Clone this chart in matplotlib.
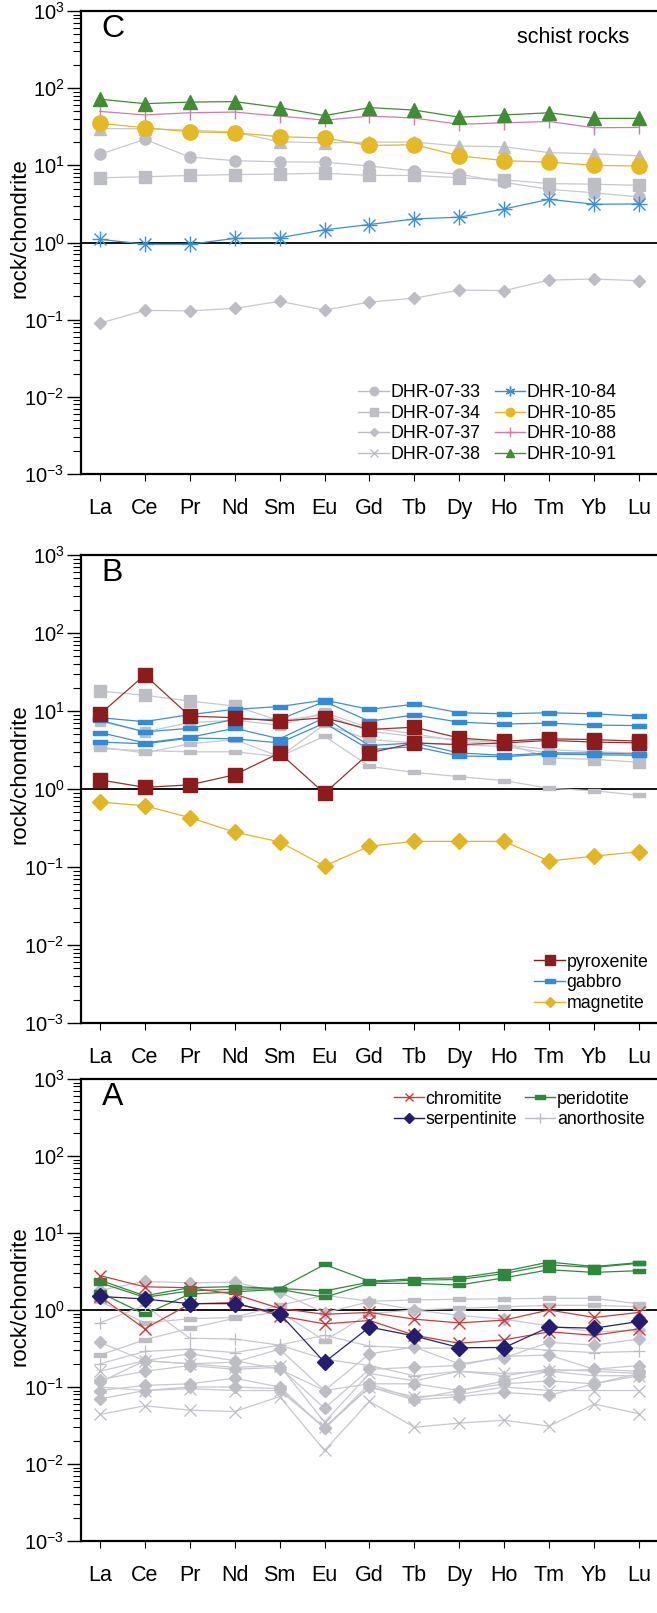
import matplotlib
matplotlib.use('Agg')
import matplotlib.pyplot as plt
from matplotlib.lines import Line2D
from matplotlib.ticker import FixedLocator, NullFormatter

plt.rcParams['font.family'] = ['Liberation Sans', 'DejaVu Sans']
plt.rcParams['mathtext.fontset'] = 'custom'
plt.rcParams['mathtext.rm'] = 'Liberation Sans'
plt.rcParams['mathtext.it'] = 'Liberation Sans:italic'
plt.rcParams['mathtext.bf'] = 'Liberation Sans:bold'
plt.rcParams['axes.unicode_minus'] = False

ree = ['La', 'Ce', 'Pr', 'Nd', 'Sm', 'Eu', 'Gd', 'Tb', 'Dy', 'Ho', 'Tm', 'Yb', 'Lu']
decades = [-3, -2, -1, 0, 1, 2, 3]

# --- panel C: schist rocks ---
dhr_07_33 = [13.9, 21.7, 12.8, 11.5, 11.1, 11.0, 9.8, 8.5, 7.7, 6.0, 4.9, 4.4, 3.9]
dhr_07_34 = [6.9, 7.1, 7.4, 7.6, 7.7, 7.9, 7.4, 7.4, 6.9, 6.5, 5.8, 5.7, 5.5]
dhr_07_37 = [0.090, 0.132, 0.130, 0.140, 0.173, 0.133, 0.169, 0.19, 0.242, 0.238, 0.326, 0.336, 0.32]
dhr_07_38 = [30, 29.8, 28.6, 27, 20.2, 19.6, 20, 20, 17.8, 17.4, 14.6, 14.1, 13.3]
dhr_10_84 = [1.10, 0.95, 0.95, 1.13, 1.15, 1.46, 1.71, 2.02, 2.13, 2.72, 3.63, 3.13, 3.16]
dhr_10_85 = [35, 30.7, 27.2, 26.4, 23.5, 22.6, 18.1, 18.5, 13.3, 11.5, 11.0, 10.0, 9.8]
dhr_10_88 = [50, 45, 48, 49, 43.5, 38.5, 43.5, 41, 34, 35.6, 37, 30.7, 31]
dhr_10_91 = [72, 63, 66, 67, 56, 44, 56, 52, 42, 45, 48, 40.6, 40.6]

# --- panel B ---
pyroxenite = [
    [9.1, 29, 8.6, 8.2, 7.4, 8.2, 5.8, 6.2, 4.5, 4.1, 4.4, 4.3, 4.1],
    [1.31, 1.05, 1.13, 1.52, 2.9, 0.88, 2.9, 3.9, 3.7, 3.9, 4.2, 4.0, 3.9],
]
gabbro = [
    [8.2, 7.3, 9.0, 10.5, 11.4, 13.8, 10.5, 12.2, 9.5, 9.2, 9.5, 9.2, 8.6],
    [7.6, 5.4, 6.0, 7.8, 7.8, 13.2, 7.4, 8.9, 7.2, 6.8, 7.0, 6.6, 6.5],
    [5.3, 3.9, 4.6, 6.0, 4.4, 8.2, 3.6, 3.9, 2.9, 2.7, 2.9, 2.9, 2.8],
    [4.0, 3.8, 4.5, 4.4, 3.9, 7.0, 3.2, 3.5, 2.65, 2.6, 2.8, 2.75, 2.7],
]
other_b = [
    [18, 15.9, 13.4, 11.6, 7.5, 9.0, 5.5, 4.7, 4.3, 3.9, 2.5, 2.4, 2.2],
    [7.4, 5.4, 7.1, 7.6, 6.6, 9.5, 6.1, 5.1, 4.1, 3.7, 3.2, 3.0, 2.9],
    [3.45, 2.9, 3.8, 4.3, 2.6, 6.7, 4.3, 3.9, 3.7, 3.5, 2.9, 2.8, 2.9],
    [3.3, 3.1, 3.0, 3.0, 2.6, 4.75, 1.95, 1.63, 1.44, 1.28, 1.02, 0.95, 0.83],
]
magnetite = [0.68, 0.61, 0.43, 0.28, 0.21, 0.103, 0.185, 0.213, 0.213, 0.213, 0.119, 0.138, 0.157]

# --- panel A ---
chromitite = [
    [2.8, 2.0, 1.95, 1.6, 1.05, 0.88, 0.93, 0.76, 0.68, 0.74, 1.0, 0.80, 0.93],
    [1.5, 0.57, 1.2, 1.25, 0.84, 0.66, 0.73, 0.47, 0.37, 0.41, 0.52, 0.47, 0.57],
]
serpentinite = [1.5, 1.39, 1.21, 1.21, 0.9, 0.21, 0.6, 0.46, 0.325, 0.325, 0.6, 0.58, 0.71]
peridotite = [
    [2.44, 1.53, 1.95, 2.01, 1.9, 3.9, 2.37, 2.54, 2.62, 3.18, 4.2, 3.67, 4.13],
    [2.26, 1.46, 1.77, 1.86, 1.9, 1.77, 2.3, 2.44, 2.49, 2.97, 3.86, 3.57, 4.05],
    [1.69, 0.88, 1.61, 1.72, 1.86, 1.46, 2.22, 2.22, 2.11, 2.62, 3.33, 3.08, 3.24],
]
anorthosite = [
    ['D', [1.8, 2.35, 2.25, 2.3, 1.7, 0.92, 1.28, 1.0, 0.85, 0.76, 0.62, 0.52, 0.55]],
    ['_', [1.3, 0.68, 0.77, 0.8, 1.15, 1.55, 1.3, 1.35, 1.38, 1.4, 1.42, 1.42, 1.2]],
    ['_', [0.26, 0.41, 0.58, 0.78, 0.95, 0.40, 0.9, 1.0, 1.05, 1.1, 1.15, 1.15, 1.1]],
    ['+', [0.68, 1.15, 0.43, 0.42, 0.35, 0.47, 0.34, 0.32, 0.32, 0.33, 0.3, 0.28, 0.29]],
    ['D', [0.38, 0.22, 0.2, 0.21, 0.31, 0.09, 0.27, 0.33, 0.2, 0.24, 0.38, 0.35, 0.42]],
    ['+', [0.2, 0.29, 0.31, 0.28, 0.35, 0.23, 0.19, 0.14, 0.16, 0.14, 0.17, 0.16, 0.15]],
    ['x', [0.16, 0.22, 0.2, 0.18, 0.19, 0.035, 0.15, 0.12, 0.16, 0.15, 0.16, 0.14, 0.14]],
    ['D', [0.125, 0.16, 0.19, 0.17, 0.18, 0.053, 0.17, 0.18, 0.19, 0.25, 0.26, 0.17, 0.19]],
    ['D', [0.115, 0.22, 0.27, 0.22, 0.17, 0.09, 0.11, 0.11, 0.09, 0.12, 0.16, 0.17, 0.16]],
    ['D', [0.09, 0.105, 0.11, 0.13, 0.1, 0.029, 0.11, 0.07, 0.09, 0.11, 0.12, 0.11, 0.15]],
    ['x', [0.1, 0.09, 0.095, 0.09, 0.09, 0.03, 0.1, 0.075, 0.08, 0.1, 0.09, 0.09, 0.09]],
    ['D', [0.07, 0.09, 0.1, 0.1, 0.095, 0.029, 0.1, 0.068, 0.075, 0.085, 0.078, 0.11, 0.14]],
    ['x', [0.044, 0.057, 0.05, 0.048, 0.075, 0.015, 0.065, 0.03, 0.034, 0.037, 0.031, 0.06, 0.045]],
]

gray = '#bdbdc5'
gray_line = '#c8c8cf'
flat = [(-1, -0.32), (1, -0.32), (1, 0.32), (-1, 0.32), (-1, -0.32)]
x = list(range(len(ree)))

W, H = 657, 1613
fig = plt.figure(figsize=(W / 100, H / 100), dpi=100)


def make_ax(top, bottom, letter):
    ax = fig.add_axes([81 / W, 1 - bottom / H, (W - 81) / W, (bottom - top) / H])
    ax.set_yscale('log')
    ax.set_ylim(1e-3, 1e3)
    ax.set_xlim(-0.42, 12.4)
    ax.set_xticks(x)
    ax.set_xticklabels(ree)
    ax.set_yticks([10.0 ** d for d in decades])
    ax.set_yticklabels([r'$\mathdefault{10^{%d}}$' % d for d in decades])
    minors = [m * 10.0 ** d for d in decades[:-1] for m in range(2, 10)]
    ax.yaxis.set_minor_locator(FixedLocator(minors))
    ax.yaxis.set_minor_formatter(NullFormatter())
    ax.tick_params(axis='y', which='major', length=10, width=1, labelsize=14.5, pad=2)
    ax.tick_params(axis='y', which='minor', length=6, width=0.8)
    ax.tick_params(axis='x', length=5, width=0.8, labelsize=15.5, pad=12)
    for s in ['left', 'bottom', 'top']:
        ax.spines[s].set_linewidth(1.6)
    ax.spines['right'].set_visible(False)
    ax.axhline(1, color='black', lw=1.3, zorder=1)
    ax.set_ylabel('rock/chondrite', fontsize=16)
    ax.yaxis.set_label_coords(-0.088, 0.531)
    ax.text(0.036, 0.993, letter, transform=ax.transAxes, fontsize=23, va='top', ha='left')
    return ax


def leg(col, marker, ms, mew=1.0):
    return Line2D([], [], color=col, lw=1.0, marker=marker, markersize=ms,
                  markerfacecolor=col, markeredgecolor=col, markeredgewidth=mew)


leg_kw = dict(frameon=False, fontsize=12.8, handlelength=1.7, handletextpad=0.1,
              labelspacing=0.2, borderpad=0.0, borderaxespad=0.0)

# ---------- C ----------
axC = make_ax(11, 474, 'C')
lw = 0.9
axC.plot(x, dhr_07_38, color=gray_line, lw=lw, marker='^', ms=8.5, mfc=gray, mec=gray)
axC.plot(x, dhr_07_33, color=gray_line, lw=lw, marker='o', ms=8, mfc=gray, mec=gray)
axC.plot(x, dhr_07_34, color=gray_line, lw=lw, marker='s', ms=8, mfc=gray, mec=gray)
axC.plot(x, dhr_07_37, color=gray_line, lw=lw, marker='D', ms=6, mfc=gray, mec=gray)
axC.plot(x, dhr_10_84, color='#3a8fdc', lw=lw, marker='x', ms=9, mew=1.0)
axC.plot(x, dhr_10_84, color='#3a8fdc', lw=0, marker='+', ms=11, mew=1.0)
axC.plot(x, dhr_10_88, color='#d27aac', lw=lw, marker='|', ms=10, mew=1.0)
axC.plot(x, dhr_10_85, color='#e4b923', lw=lw, marker='o', ms=11)
axC.plot(x, dhr_10_91, color='#3f8e32', lw=lw, marker='^', ms=10.5)
axC.text(0.951, 0.965, 'schist rocks', transform=axC.transAxes, fontsize=15.5, ha='right', va='top')
hC = [leg(gray, 'o', 6), leg(gray, 's', 5.5), leg(gray, 'D', 4.5), leg(gray, 'x', 6),
      leg('#3a8fdc', (6, 2, 0), 7), leg('#e4b923', 'o', 6), leg('#d27aac', '+', 7),
      leg('#3f8e32', '^', 6)]
lC = ['DHR-07-33', 'DHR-07-34', 'DHR-07-37', 'DHR-07-38',
      'DHR-10-84', 'DHR-10-85', 'DHR-10-88', 'DHR-10-91']
axC.legend(hC, lC, ncol=2, loc='lower right', bbox_to_anchor=(0.93, 0.024),
           columnspacing=0.8, **leg_kw)

# ---------- B ----------
axB = make_ax(555, 1023, 'B')
for i, row in enumerate(other_b):
    mk = 's' if i < 2 else flat
    ms = 8.5 if i == 0 else (7.5 if i == 1 else 8)
    axB.plot(x, row, color=gray_line, lw=lw, marker=mk, ms=ms, mfc=gray, mec=gray)
for row in gabbro:
    axB.plot(x, row, color='#3b8fdc', lw=lw, marker=flat, ms=9.5, mfc='#2f8bdc', mec='#2f8bdc')
for row in pyroxenite:
    axB.plot(x, row, color='#9b3030', lw=lw, marker='s', ms=10, mfc='#8c1c1c', mec='#8c1c1c')
axB.plot(x, magnetite, color='#e2b623', lw=lw, marker='D', ms=8, mfc='#e2b623', mec='#e2b623')
hB = [leg('#8c1c1c', 's', 7), leg('#2f8bdc', flat, 7), leg('#e2b623', 'D', 5)]
axB.legend(hB, ['pyroxenite', 'gabbro', 'magnetite'], loc='lower right',
           bbox_to_anchor=(0.985, 0.024), **leg_kw)

# ---------- A ----------
axA = make_ax(1079, 1541, 'A')
for mk, row in anorthosite:
    if mk == 'D':
        axA.plot(x, row, color=gray_line, lw=lw, marker='D', ms=6.5, mfc=gray, mec=gray)
    elif mk == '_':
        axA.plot(x, row, color=gray_line, lw=lw, marker=flat, ms=8, mfc=gray, mec=gray)
    else:
        axA.plot(x, row, color=gray_line, lw=lw, marker=mk, ms=9, mec=gray, mew=0.9)
for row in peridotite:
    axA.plot(x, row, color='#2e8b3c', lw=lw, marker=flat, ms=9, mfc='#2a8a3a', mec='#2a8a3a')
for row in chromitite:
    axA.plot(x, row, color='#d03a3a', lw=lw, marker='x', ms=9, mew=1.0)
axA.plot(x, serpentinite, color='#28207a', lw=lw, marker='D', ms=8, mfc='#241c6e', mec='#241c6e')
hA = [leg('#d03a3a', 'x', 6), leg('#241c6e', 'D', 5), leg('#2a8a3a', flat, 7),
      leg(gray, '+', 7)]
axA.legend(hA, ['chromitite', 'serpentinite', 'peridotite', 'anorthosite'], ncol=2,
           loc='upper right', bbox_to_anchor=(0.979, 0.975), columnspacing=0.45, **leg_kw)

fig.savefig('out.png', dpi=100)
